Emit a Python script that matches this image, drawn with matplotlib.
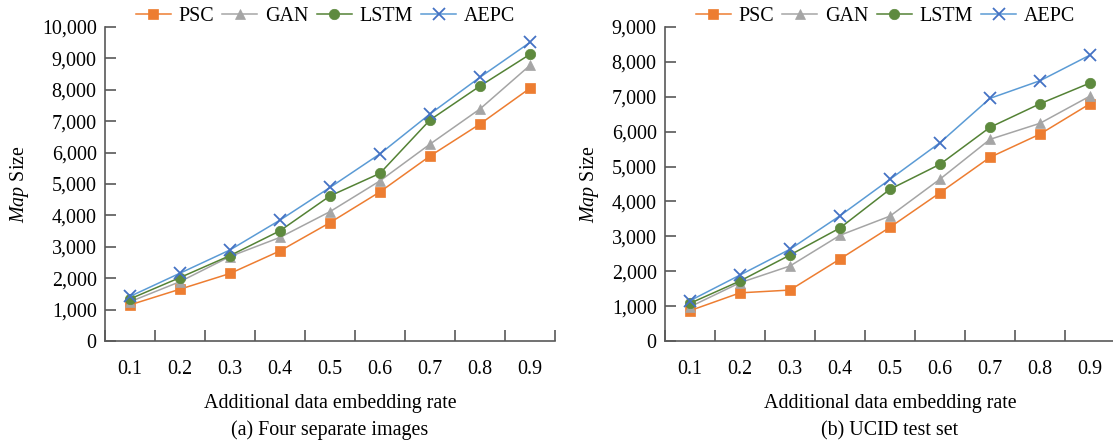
import matplotlib
matplotlib.use("Agg")
import matplotlib.pyplot as plt
from matplotlib.ticker import FuncFormatter, FixedLocator

plt.rcParams['font.family'] = ['Liberation Serif', 'DejaVu Serif']
plt.rcParams['mathtext.fontset'] = 'custom'
plt.rcParams['mathtext.it'] = 'Liberation Serif:italic'
plt.rcParams['mathtext.rm'] = 'Liberation Serif'

rates = ['0.1', '0.2', '0.3', '0.4', '0.5', '0.6', '0.7', '0.8', '0.9']

# (a) Four separate images
a_psc = [1150, 1650, 2150, 2870, 3770, 4750, 5890, 6910, 8050]
a_gan = [1250, 1890, 2690, 3300, 4120, 5100, 6270, 7390, 8780]
a_lstm = [1340, 2020, 2720, 3510, 4620, 5340, 7040, 8120, 9130]
a_aepc = [1420, 2160, 2900, 3850, 4890, 5960, 7230, 8400, 9510]

# (b) UCID test set
b_psc = [870, 1380, 1460, 2350, 3260, 4250, 5265, 5930, 6800]
b_gan = [980, 1670, 2150, 3030, 3580, 4640, 5780, 6240, 7020]
b_lstm = [1080, 1720, 2465, 3240, 4350, 5065, 6125, 6800, 7395]
b_aepc = [1155, 1890, 2630, 3590, 4635, 5685, 6955, 7460, 8195]

series_names = ['PSC', 'GAN', 'LSTM', 'AEPC']
line_colors = ['#ED7D31', '#A5A5A5', '#548235', '#5B9BD5']
marker_colors = ['#ED7D31', '#A5A5A5', '#5E8A3E', '#4472C4']
markers = ['s', '^', 'o', 'x']

fig = plt.figure(figsize=(11.13, 4.4), dpi=100)
W, H = 1113.0, 440.0
ax_a = fig.add_axes([105 / W, (H - 341) / H, 450 / W, 314 / H])
ax_b = fig.add_axes([665 / W, (H - 341) / H, 450 / W, 314 / H])

spine_col = '#595959'
fs = 14.4

def draw(ax, data, ymax, subtitle, ylab_x):
    x = list(range(len(rates)))
    for vals, name, lc, mc, mk in zip(data, series_names, line_colors, marker_colors, markers):
        kw = dict(color=lc, lw=1.1, marker=mk, markersize=7.5 if mk != 'x' else 8,
                  markerfacecolor=mc, markeredgecolor=mc, label=name)
        if mk == 'x':
            kw['markeredgewidth'] = 1.3
        else:
            kw['markeredgewidth'] = 0.5
        ax.plot(x, vals, **kw)
    ax.set_xlim(-0.5, len(rates) - 0.5)
    ax.set_ylim(0, ymax)
    ax.set_yticks(range(0, ymax + 1, 1000))
    ax.yaxis.set_major_formatter(FuncFormatter(lambda v, p: f"{int(v):,}"))
    ax.xaxis.set_major_locator(FixedLocator([i + 0.5 for i in range(-1, len(rates))]))
    ax.set_xticklabels([])
    ax.xaxis.set_minor_locator(FixedLocator(x))
    ax.set_xticklabels(rates, minor=True)
    ax.tick_params(axis='x', which='major', direction='in', length=8, width=1.2, color=spine_col)
    ax.tick_params(axis='x', which='minor', length=0, pad=14, labelsize=fs)
    ax.tick_params(axis='y', direction='in', length=8, width=1.2, color=spine_col, labelsize=fs, pad=6)
    for s in ['top', 'right']:
        ax.spines[s].set_visible(False)
    for s in ['left', 'bottom']:
        ax.spines[s].set_color(spine_col)
        ax.spines[s].set_linewidth(1.2)
    ax.set_ylabel(r'$\mathit{Map}$ Size', fontsize=fs)
    ax.yaxis.set_label_coords(ylab_x, 0.5)
    ax.text(0.5, -0.20, 'Additional data embedding rate', transform=ax.transAxes,
            ha='center', va='center', fontsize=fs)
    ax.text(0.5, -0.285, subtitle, transform=ax.transAxes,
            ha='center', va='center', fontsize=fs)
    ax.legend(loc='center', bbox_to_anchor=(0.49, 1.035), ncol=4, frameon=False,
              fontsize=fs, handlelength=1.75, handletextpad=0.4, columnspacing=0.4,
              borderaxespad=0)

draw(ax_a, [a_psc, a_gan, a_lstm, a_aepc], 10000, '(a) Four separate images', -74 / 450)
draw(ax_b, [b_psc, b_gan, b_lstm, b_aepc], 9000, '(b) UCID test set', -64 / 450)

fig.savefig('out.png', dpi=100)
